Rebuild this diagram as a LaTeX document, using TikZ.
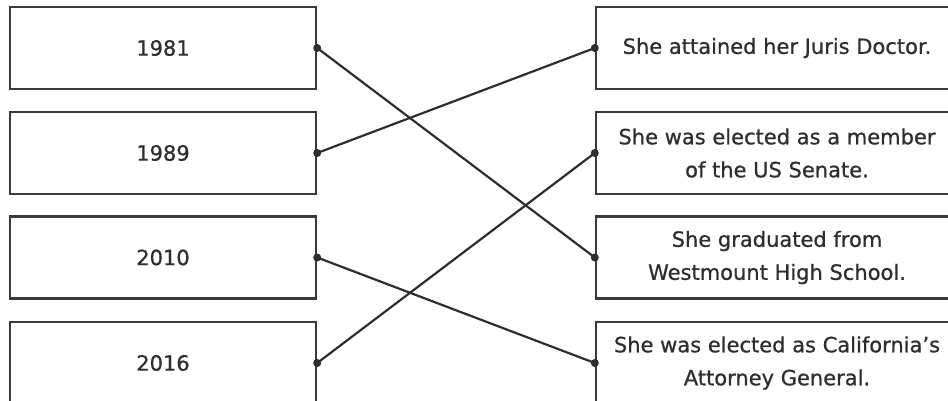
\documentclass[tikz,border=0pt]{standalone}
\usepackage{fontspec}
\setmainfont{DejaVu Sans}[FakeBold=0.8]
\definecolor{ink}{HTML}{2E2E2E}
\definecolor{boxline}{HTML}{3A3A3A}
\begin{document}
\begin{tikzpicture}[x=1pt,y=-1pt,
  box/.style={draw=boxline,line width=2.4pt,minimum height=82pt,inner sep=0pt,align=center,
    text=ink,font=\fontsize{21}{33}\selectfont},
  leftbox/.style={box,minimum width=306pt},
  rightbox/.style={box,minimum width=362pt},
  link/.style={draw=ink,line width=2.2pt},
  dot/.style={circle,fill=ink,inner sep=0pt,minimum size=8pt}]
\useasboundingbox (0,0) rectangle (948,401);
\clip (0,0) rectangle (948,401);
\node[leftbox] (l1) at (163,48) {1981};
\node[leftbox] (l2) at (163,153) {1989};
\node[leftbox] (l3) at (163,257.5) {2010};
\node[leftbox] (l4) at (163,363) {2016};
\node[rightbox] (r1) at (777,48) {She attained her Juris Doctor.};
\node[rightbox] (r2) at (777,153) {She was elected as a member\\of the US Senate.};
\node[rightbox] (r3) at (777,257.5) {She graduated from\\Westmount High School.};
\node[rightbox] (r4) at (777,363) {She was elected as California's\\Attorney General.};
\foreach \n in {l1,l2,l3,l4} {\node[dot] (\n d) at (\n.east) {};}
\foreach \n in {r1,r2,r3,r4} {\node[dot] (\n d) at (\n.west) {};}
\draw[link] (l1d.center) -- (r3d.center);
\draw[link] (l2d.center) -- (r1d.center);
\draw[link] (l3d.center) -- (r4d.center);
\draw[link] (l4d.center) -- (r2d.center);
\end{tikzpicture}
\end{document}
